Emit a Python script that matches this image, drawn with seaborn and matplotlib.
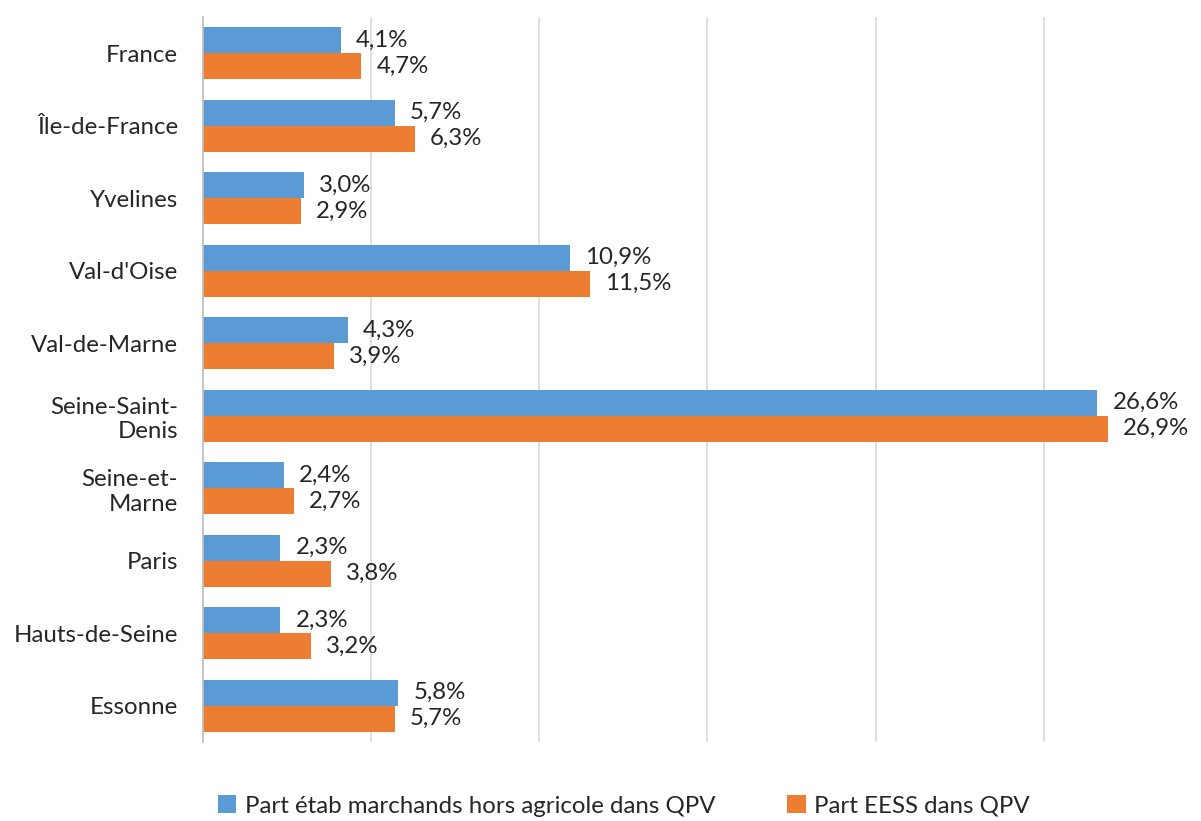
import matplotlib
matplotlib.use("Agg")
import matplotlib.pyplot as plt
import seaborn as sns
import pandas as pd

territoires = ["France", "Île-de-France", "Yvelines", "Val-d'Oise", "Val-de-Marne",
               "Seine-Saint-\nDenis", "Seine-et-\nMarne", "Paris", "Hauts-de-Seine", "Essonne"]
part_marchands = [4.1, 5.7, 3.0, 10.9, 4.3, 26.6, 2.4, 2.3, 2.3, 5.8]
part_eess = [4.7, 6.3, 2.9, 11.5, 3.9, 26.9, 2.7, 3.8, 3.2, 5.7]
series = ["Part étab marchands hors agricole dans QPV", "Part EESS dans QPV"]
couleurs = ["#5B9BD5", "#ED7D31"]

df = pd.DataFrame({
    "territoire": territoires * 2,
    "valeur": part_marchands + part_eess,
    "serie": [series[0]] * len(territoires) + [series[1]] * len(territoires),
})

sns.set_style("white")
plt.rcParams["font.family"] = ["Lato", "DejaVu Sans"]
FS = 17.3

fig = plt.figure(figsize=(12.01, 8.21), dpi=100)
ax = fig.add_axes([203 / 1201, 1 - 742 / 821, (1195 - 203) / 1201, (742 - 17) / 821])

sns.barplot(data=df, x="valeur", y="territoire", hue="serie", orient="h",
            palette=couleurs, width=0.72, order=territoires, hue_order=series,
            saturation=1, linewidth=0, ax=ax, legend=True)

ax.set_xlim(0, 29.5)
ax.set_xticks([0, 5, 10, 15, 20, 25])
ax.set_xticklabels([])
ax.tick_params(axis="both", length=0)
ax.xaxis.grid(True, color="#D9D9D9", linewidth=1.2)
ax.set_axisbelow(True)
ax.set_xlabel("")
ax.set_ylabel("")
ax.tick_params(axis="y", labelsize=FS, pad=18)
for s in ["top", "right", "bottom"]:
    ax.spines[s].set_visible(False)
ax.spines["left"].set_color("#BFBFBF")
ax.spines["left"].set_linewidth(1.2)

for cont, vals in zip(ax.containers, [part_marchands, part_eess]):
    labels = [f"{v:.1f}".replace(".", ",") + "%" for v in vals]
    ax.bar_label(cont, labels=labels, padding=11, fontsize=FS)

handles, labs = ax.get_legend_handles_labels()
ax.get_legend().remove()
fig.legend(handles, labs, loc="center", bbox_to_anchor=(624 / 1201, 1 - 806 / 821), ncol=2,
           frameon=False, fontsize=FS, handlelength=0.75, handleheight=0.75,
           columnspacing=3.0, handletextpad=0.35)

fig.savefig("out.png", dpi=100)
